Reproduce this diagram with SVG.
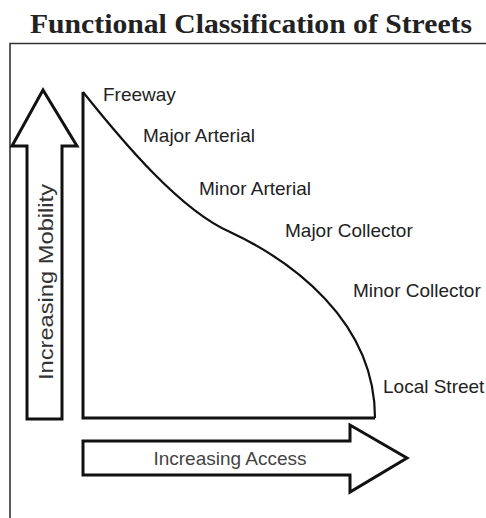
<svg xmlns="http://www.w3.org/2000/svg" width="486" height="518" viewBox="0 0 486 518">
<style>
.lbl{font-family:"Liberation Sans",Arial,sans-serif;font-size:19px;fill:#222}
.arrow{fill:#fff;stroke:#111;stroke-width:3;stroke-linejoin:miter}
.title{font-family:"Liberation Serif","Times New Roman",serif;font-size:27px;font-weight:bold;fill:#222}
</style>
<rect width="486" height="518" fill="#fff"/>
<g id="title"><text class="title" x="30" y="33" textLength="442" lengthAdjust="spacingAndGlyphs">Functional Classification of Streets</text></g>
<g id="frame"><path d="M10,518 V43.5 H486" fill="none" stroke="#333" stroke-width="1.6"/></g>
<g id="mobility-arrow">
<polygon class="arrow" points="43,90 77,146 62,146 62,419 27,419 27,146 12,146"/>
<text class="lbl" transform="translate(53,282) rotate(-90)" text-anchor="middle" style="fill:#333;font-size:20px" textLength="196" lengthAdjust="spacingAndGlyphs">Increasing Mobility</text>
</g>
<g id="access-arrow">
<polygon class="arrow" points="83,441 350,441 350,425 407,458 350,492 350,475 83,475"/>
<text class="lbl" x="230" y="465" text-anchor="middle" style="fill:#444">Increasing Access</text>
</g>
<g id="chart">
<path d="M83,92 V418 H375" fill="none" stroke="#111" stroke-width="3"/>
<path d="M83,92 C123,142 180,210 230,232 C290,260 375,320 375,418" fill="none" stroke="#111" stroke-width="2.2"/>
</g>
<g id="labels">
<text id="freeway" class="lbl" x="103" y="101">Freeway</text>
<text id="major-arterial" class="lbl" x="143" y="142">Major Arterial</text>
<text id="minor-arterial" class="lbl" x="199" y="195">Minor Arterial</text>
<text id="major-collector" class="lbl" x="285" y="237">Major Collector</text>
<text id="minor-collector" class="lbl" x="353" y="297">Minor Collector</text>
<text id="local-street" class="lbl" x="383" y="393">Local Street</text>
</g>
</svg>
